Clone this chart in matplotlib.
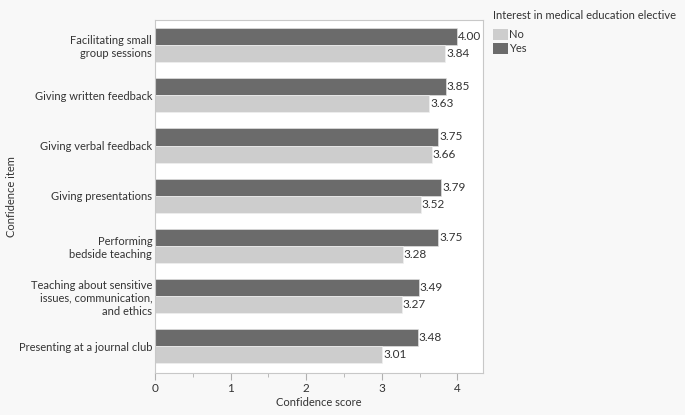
import matplotlib
matplotlib.use("Agg")
import matplotlib.pyplot as plt
import numpy as np
from matplotlib.patches import Patch
from matplotlib.ticker import MultipleLocator

plt.rcParams['font.family'] = ['Lato', 'DejaVu Sans']

categories = [
    "Facilitating small\ngroup sessions",
    "Giving written feedback",
    "Giving verbal feedback",
    "Giving presentations",
    "Performing\nbedside teaching",
    "Teaching about sensitive\nissues, communication,\nand ethics",
    "Presenting at a journal club",
]
yes_values = [4.00, 3.85, 3.75, 3.79, 3.75, 3.49, 3.48]
no_values = [3.84, 3.63, 3.66, 3.52, 3.28, 3.27, 3.01]
series_names = ["No", "Yes"]
legend_title = "Interest in medical education elective"
x_ticks = [0, 1, 2, 3, 4]

dark = "#6b6b6b"
light = "#cdcdcd"
text_col = "#333333"
fs = 8

fig = plt.figure(figsize=(6.85, 4.15), dpi=100)
fig.patch.set_facecolor("#f8f8f8")
ax = fig.add_axes([155/685, 1 - 373/415, (483-155)/685, (373-20)/415])
ax.set_facecolor("white")

y = np.arange(len(categories))
h = 0.34
ax.barh(y - h/2, yes_values, height=h, color=dark, edgecolor="#e0e0e0", linewidth=0.5)
ax.barh(y + h/2, no_values, height=h, color=light, edgecolor="#f0f0f0", linewidth=0.5)

for yi, v in zip(y, yes_values):
    ax.text(v + 0.01, yi - h/2, f"{v:.2f}", va="center", ha="left", fontsize=fs + 0.5, color=text_col)
for yi, v in zip(y, no_values):
    ax.text(v + 0.01, yi + h/2, f"{v:.2f}", va="center", ha="left", fontsize=fs + 0.5, color=text_col)

ax.set_ylim(len(categories) - 1 + 0.53, -0.5)
ax.set_xlim(0, 4.34)
ax.set_yticks(y)
ax.set_yticklabels(categories, fontsize=fs, color=text_col, linespacing=1.25)
ax.tick_params(axis='y', length=0, pad=2)
ax.set_xticks(x_ticks)
ax.xaxis.set_minor_locator(MultipleLocator(0.5))
ax.tick_params(axis='x', which='major', length=5, color="#b0b0b0", labelsize=fs + 0.5, labelcolor=text_col, pad=2)
ax.tick_params(axis='x', which='minor', length=3, color="#b0b0b0")
for s in ax.spines.values():
    s.set_color("#c8c8c8")
    s.set_linewidth(0.8)

ax.set_xlabel("Confidence score", fontsize=fs, color=text_col, labelpad=2)
ax.set_ylabel("Confidence item", fontsize=fs, color=text_col)
ax.yaxis.set_label_coords(-(155 - 17) / 328, 0.5)

handles = [Patch(facecolor=light, edgecolor="none"), Patch(facecolor=dark, edgecolor="none")]
leg = fig.legend(handles, series_names, title=legend_title, loc="upper left",
                 bbox_to_anchor=(485/685, 1 - 2/415), frameon=False, fontsize=fs,
                 title_fontsize=fs, handlelength=1.4, handleheight=1.1, handletextpad=0.1,
                 labelspacing=0.25, borderpad=0.2)
leg._legend_box.align = "left"
leg._legend_box.sep = 6
leg.get_title().set_color(text_col)
for t in leg.get_texts():
    t.set_color(text_col)

fig.savefig("out.png", dpi=100, facecolor=fig.get_facecolor())
